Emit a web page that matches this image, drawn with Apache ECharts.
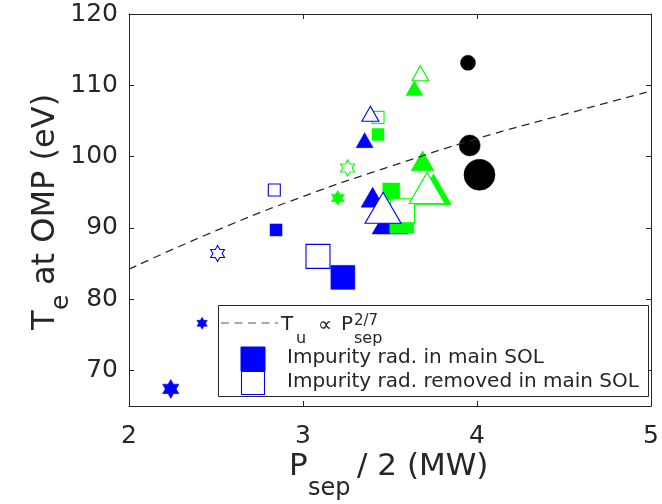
<!DOCTYPE html>
<html><head><meta charset="utf-8">
<script src="https://cdn.jsdelivr.net/npm/echarts@6/dist/echarts.min.js"></script>
<style>html,body{margin:0;padding:0;background:#fff}#c{width:662px;height:504px}</style>
</head><body><div id="c"></div>
<script>
// ---- data ----
const xTicks = [2, 3, 4, 5];
const yTicks = [70, 80, 90, 100, 110, 120];
const fitX = [2, 2.5, 3, 3.5, 4, 4.5, 5];
const fitY = [84.2, 89.6, 94.4, 98.6, 102.5, 105.9, 109.2];
// squares
const blueSqFilledS = [[2.845, 89.7]];
const blueSqFilledL = [[3.229, 83.05]];
const blueSqOpenS = [[2.835, 95.3]];
const blueSqOpenL = [[3.086, 86.0]];
const greenSqFilledS = [[3.431, 103.1]];
const greenSqOpenS = [[3.431, 105.5]];
const greenSqFilledM = [[3.507, 95.1]];
const greenSqFilledL = [[3.568, 90.9]];
const greenSqOpenL = [[3.572, 92.4]];
// triangles
const blueTriFilledS = [[3.354, 102.3]];
const blueTriOpenS = [[3.387, 106.0]];
const blueTriFilledM = [[3.40, 94.3]];
const blueTriFilledL = [[3.50, 91.3]];
const blueTriOpenL = [[3.46, 92.8]];
const greenTriFilledS = [[3.64, 109.6]];
const greenTriOpenS = [[3.674, 111.7]];
const greenTriFilledM = [[3.687, 99.4]];
const greenTriFilledL = [[3.75, 95.4]];
const greenTriOpenL = [[3.713, 95.6]];
// circles
const blackCircS = [[3.948, 113.15]];
const blackCircM = [[3.958, 101.55]];
const blackCircL = [[4.014, 97.45]];
// hexagrams
const blueStarFilledS = [[2.42, 76.6]];
const blueStarFilledL = [[2.24, 67.4]];
const blueStarOpen = [[2.509, 86.4]];
const greenStarFilled = [[3.20, 94.2]];
const greenStarOpen = [[3.256, 98.4]];

// ---- styling ----
const BLUE = '#0000ff', GREEN = '#00ff00', BLACK = '#000000', TXT = '#262626';
const FONT = 'DejaVu Sans';

function hexPath() {
  const R = 10, r = R / Math.sqrt(3);
  let pts = [];
  for (let k = 0; k < 12; k++) {
    const ang = (-90 + 30 * k) * Math.PI / 180;
    const rad = k % 2 === 0 ? R : r;
    pts.push((rad * Math.cos(ang)).toFixed(3) + ',' + (rad * Math.sin(ang)).toFixed(3));
  }
  return 'path://M' + pts.join(' L') + ' Z';
}
const HEX = hexPath();

function sc(name, data, symbol, size, color, open) {
  return {
    name, type: 'scatter', data, symbol, symbolSize: size, symbolKeepAspect: symbol === HEX,
    itemStyle: open ? { color: '#ffffff', borderColor: color, borderWidth: 1.1, opacity: 1 }
                    : { color: color, borderColor: color, borderWidth: 0.5, opacity: 1 },
    emphasis: { disabled: true }, silent: true
  };
}
const TS = [17, 15], TM = [23, 20], TL = [36, 31];
const SS = 12, SM = 17, SL = 24;

const series = [
  {
    type: 'line', data: fitX.map((x, i) => [x, fitY[i]]), smooth: true, showSymbol: false,
    lineStyle: { color: '#2a2a2a', width: 1.3, type: [8, 5.5] }, silent: true
  },
  sc('bTriFS', blueTriFilledS, 'triangle', TS, BLUE, false),
  sc('bTriFM', blueTriFilledM, 'triangle', TM, BLUE, false),
  sc('bTriFL', blueTriFilledL, 'triangle', TL, BLUE, false),
  sc('gSqFS', greenSqFilledS, 'rect', SS, GREEN, false),
  sc('gSqOS', greenSqOpenS, 'rect', SS, GREEN, true),
  sc('gSqFM', greenSqFilledM, 'rect', SM, GREEN, false),
  sc('gSqFL', greenSqFilledL, 'rect', SL, GREEN, false),
  sc('gSqOL', greenSqOpenL, 'rect', SL, GREEN, true),
  sc('gTriFS', greenTriFilledS, 'triangle', TS, GREEN, false),
  sc('gTriOS', greenTriOpenS, 'triangle', TS, GREEN, true),
  sc('gTriFM', greenTriFilledM, 'triangle', TM, GREEN, false),
  sc('gTriFL', greenTriFilledL, 'triangle', TL, GREEN, false),
  sc('gTriOL', greenTriOpenL, 'triangle', TL, GREEN, true),
  sc('bSqFS', blueSqFilledS, 'rect', SS, BLUE, false),
  sc('bSqFL', blueSqFilledL, 'rect', SL, BLUE, false),
  sc('bSqOS', blueSqOpenS, 'rect', SS, BLUE, true),
  sc('bSqOL', blueSqOpenL, 'rect', SL, BLUE, true),
  sc('bTriOS', blueTriOpenS, 'triangle', TS, BLUE, true),
  sc('bTriOL', blueTriOpenL, 'triangle', TL, BLUE, true),
  sc('kCS', blackCircS, 'circle', 15, BLACK, false),
  sc('kCM', blackCircM, 'circle', 21, BLACK, false),
  sc('kCL', blackCircL, 'circle', 31, BLACK, false),
  sc('bStFS', blueStarFilledS, HEX, 12, BLUE, false),
  sc('bStFL', blueStarFilledL, HEX, 19, BLUE, false),
  sc('bStO', blueStarOpen, HEX, 16, BLUE, true),
  sc('gStF', greenStarFilled, HEX, 15, GREEN, false),
  sc('gStO', greenStarOpen, HEX, 16, GREEN, true)
];

const axisCommon = {
  axisLine: { show: true, onZero: false, lineStyle: { color: TXT, width: 1 } },
  axisTick: { show: true, inside: true, length: 5, lineStyle: { color: TXT, width: 1 } },
  splitLine: { show: false }
};

const chart = echarts.init(document.getElementById('c'), null, { renderer: 'canvas' });

// text placed by its baseline: middle = baseline - 0.346*size
function t(text, x, baseline, size) {
  return {
    type: 'text', x, y: baseline - 0.346 * size, z: 20,
    style: { text, fontFamily: FONT, fontSize: size, fill: TXT, verticalAlign: 'middle', align: 'left' }
  };
}

const TF = 31, SF = 24, YF = 32, YSF = 25;

chart.setOption({
  animation: false,
  backgroundColor: '#ffffff',
  grid: { left: 129, top: 14, width: 523, height: 392, containLabel: false },
  xAxis: [
    Object.assign({}, axisCommon, {
      type: 'value', min: 2, max: 5, interval: 1, position: 'bottom',
      axisLabel: { show: true, customValues: xTicks, fontFamily: FONT, fontSize: 25, color: TXT, margin: 18 },
      axisTick: Object.assign({}, axisCommon.axisTick, { customValues: xTicks })
    }),
    Object.assign({}, axisCommon, {
      type: 'value', min: 2, max: 5, interval: 1, position: 'top',
      axisLabel: { show: false },
      axisTick: Object.assign({}, axisCommon.axisTick, { customValues: xTicks })
    })
  ],
  yAxis: [
    Object.assign({}, axisCommon, {
      type: 'value', min: 65, max: 120, interval: 5, position: 'left',
      axisLabel: { show: true, customValues: yTicks, fontFamily: FONT, fontSize: 25, color: TXT, margin: 11 },
      axisTick: Object.assign({}, axisCommon.axisTick, { customValues: yTicks })
    }),
    Object.assign({}, axisCommon, {
      type: 'value', min: 65, max: 120, interval: 5, position: 'right',
      axisLabel: { show: false },
      axisTick: Object.assign({}, axisCommon.axisTick, { customValues: yTicks })
    })
  ],
  series,
  graphic: [
    // x title
    t('P', 289, 478, TF),
    t('sep', 308, 497, SF),
    t('/ 2 (MW)', 357, 478, TF),
    // y title (rotated, local baseline at y=0)
    {
      type: 'group', x: 57, y: 210, rotation: Math.PI / 2, z: 20,
      children: [
        t('T', -120, 0, YF),
        t('e', -100, 13, YSF),
        t('at OMP (eV)', -75, 0, YF)
      ]
    },
    // legend
    {
      type: 'rect', z: 15, shape: { x: 218.5, y: 305.5, width: 430, height: 91 },
      style: { fill: '#ffffff', stroke: TXT, lineWidth: 1 }
    },
    {
      type: 'line', z: 20, shape: { x1: 221, y1: 323, x2: 278, y2: 323 },
      style: { stroke: '#555', lineWidth: 1.2, lineDash: [8, 5.5] }
    },
    t('T', 281, 332, 20),
    t('u', 296, 344, 16),
    t('\u221D', 318, 333, 20),
    t('P', 341, 332, 20),
    t('2/7', 354, 326, 15),
    t('sep', 354, 344, 16),
    {
      type: 'rect', z: 20, shape: { x: 241, y: 347, width: 24, height: 24 },
      style: { fill: BLUE, stroke: BLUE, lineWidth: 1 }
    },
    {
      type: 'rect', z: 20, shape: { x: 241.5, y: 371.5, width: 23, height: 23 },
      style: { fill: '#ffffff', stroke: BLUE, lineWidth: 1.1 }
    },
    t('Impurity rad. in main SOL', 287, 365, 20),
    t('Impurity rad. removed in main SOL', 287, 389, 20)
  ]
});
</script>
</body></html>
